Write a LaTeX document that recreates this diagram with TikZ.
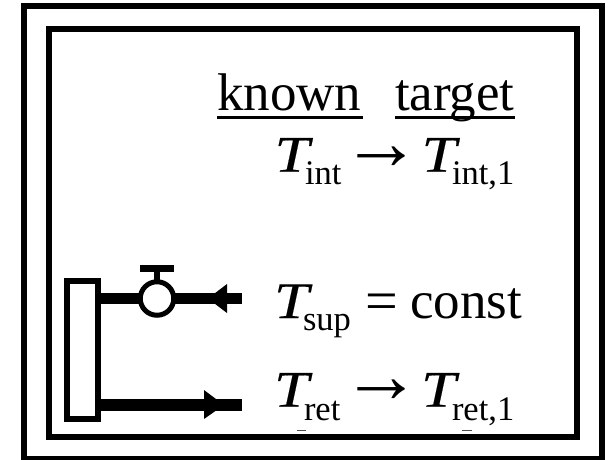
\documentclass[tikz,border=0pt]{standalone}
\usepackage{fontspec}
\setmainfont{Liberation Serif}
\tikzset{
  pipe/.style={line width=11.5pt},
  frm/.style={draw=black,line width=6pt,fill=none,inner sep=0pt,outer sep=0pt},
  big/.style={anchor=base west,inner sep=0pt,outer sep=0pt,font=\fontsize{53}{53}\selectfont},
  arrowsym/.style={anchor=base west,inner sep=0pt,outer sep=0pt,font=\fontsize{80}{80}\selectfont},
  eqsym/.style={anchor=base west,inner sep=0pt,outer sep=0pt,font=\fontsize{58}{58}\selectfont},
  var/.style={anchor=base west,inner sep=0pt,outer sep=0pt,xscale=1.18,yscale=0.97,transform shape,font=\fontsize{53}{53}\selectfont\itshape\addfontfeature{FakeBold=0.25}},
  subs/.style={anchor=base west,inner sep=0pt,outer sep=0pt,font=\fontsize{34.5}{34.5}\selectfont},
  uline/.style={line width=3.5pt},
  mark line/.style={line width=1pt,draw=black!70},
}
\begin{document}
\begin{tikzpicture}[x=1pt,y=-1pt]
\useasboundingbox (0,0) rectangle (608,459);
\fill[white] (0,0) rectangle (608,459);
\node[frm,minimum width=578pt,minimum height=453pt] (outer) at (312.5,232.5) {};
\node[frm,minimum width=528pt,minimum height=408.5pt] (inner) at (312.8,233.2) {};
% radiator, valve, pipes
\coordinate (s) at (242,298.5);
\coordinate (r) at (242,405);
\coordinate (st) at (157,268.5);
\coordinate (barl) at (140,268.5);
\coordinate (barr) at (174,268.5);
\node[draw=black,line width=6pt,fill=white,minimum width=31pt,minimum height=138pt,inner sep=0pt,outer sep=0pt] (rad) at (82.4,350) {};
\draw[pipe] (s) -- (rad.east |- s);
\draw[pipe] (r) -- (rad.east |- r);
\node[draw=black,line width=5pt,fill=white,circle,minimum size=33.5pt,inner sep=0pt,outer sep=0pt] (v) at (157,298.5) {};
\draw[line width=5.5pt] (v.north) -- (st);
\draw[line width=6.5pt] (barl) -- (barr);
\fill (208,298.5) -- (227,284) -- (227,313) -- cycle;
\fill (224,405) -- (204,390) -- (204,419) -- cycle;
% text
\node[big] (k) at (217,110) {known};
\node[big] (t) at (395,110) {target};
\draw[uline] (k.base west |- 0,117.3) -- (362.7,117.3);
\draw[uline] (t.base west |- 0,117.3) -- (515,117.3);
\node[var] (t1) at (274.5,171.7) {T};
\node[subs] at (305,184) {int};
\node[arrowsym] (a1) at (341.5,169.5) {→};
\node[var] (t2) at (421.5,171.7) {T};
\node[subs] at (452,184) {int,1};
\node[var] (t3) at (274,318) {T};
\node[subs] at (303,330) {sup};
\node[eqsym] (eq) at (365,320) {=};
\node[big] (c) at (410,318) {const};
\node[var] (t4) at (274,406.7) {T};
\node[subs] at (304,420) {ret};
\node[arrowsym] (a2) at (341.5,402.5) {→};
\node[var] (t5) at (421,406.7) {T};
\node[subs] at (452,420) {ret,1};
\coordinate (m1a) at (297,430); \coordinate (m1b) at (306,430);
\coordinate (m2a) at (462,430); \coordinate (m2b) at (471.5,430);
\draw[mark line] (m1a) -- (m1b);
\draw[mark line] (m2a) -- (m2b);
\end{tikzpicture}
\end{document}
